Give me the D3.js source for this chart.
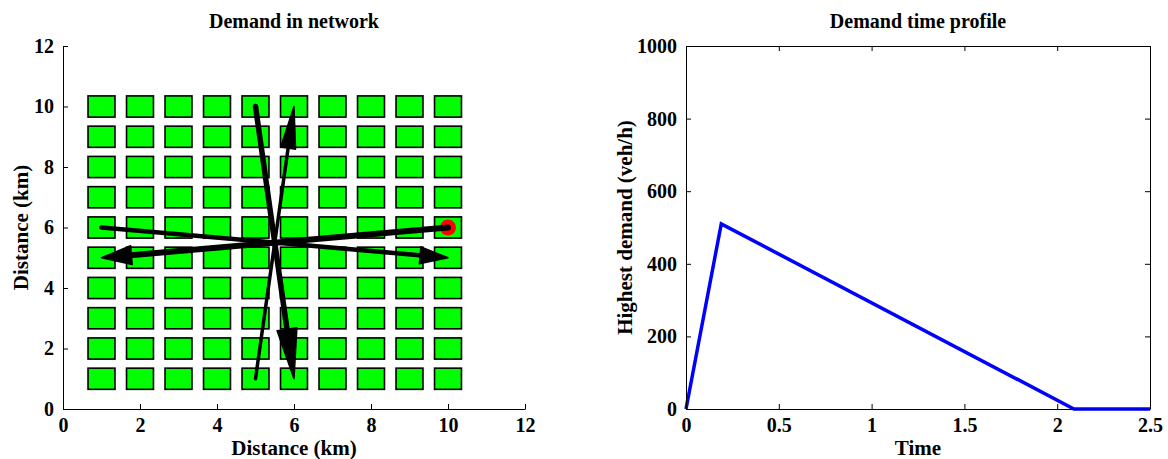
<!DOCTYPE html>
<html>
    <head>
        <meta charset="utf-8">
        <script type="text/javascript" src="https://d3js.org/d3.v7.min.js" charset="utf-8"></script>
        <style>
            body { margin: 0; background: #fff; }
            text { font-family: "Liberation Serif", "Times New Roman", serif; fill: #000; }
            .axis path, .axis line { stroke: #000; stroke-width: 1; }
        </style>
    </head>
    <body>
        <script>
            const WIDTH = 1168;
            const HEIGHT = 459;
            const FONT = '"Liberation Serif", "Times New Roman", serif';

            // ---- left chart data (network) ----
            const NET_TICKS = [0, 2, 4, 6, 8, 10, 12];
            const BLOCK_X = [1, 2, 3, 4, 5, 6, 7, 8, 9, 10];
            const BLOCK_Y = [1, 2, 3, 4, 5, 6, 7, 8, 9, 10];
            const FLOW_FROM = [[10, 6], [1, 6], [5, 10], [5, 1]];
            const FLOW_TO = [[1, 5], [10, 5], [6, 1], [6, 10]];
            const ORIGIN = [10, 6];

            // ---- right chart data (time profile) ----
            const TIME = [0, 0.19, 2.09, 2.5];
            const DEMAND = [0, 510, 0, 0];
            const TIME_TICKS = [0, 0.5, 1, 1.5, 2, 2.5];
            const DEMAND_TICKS = [0, 200, 400, 600, 800, 1000];

            // styles
            const BLOCK_SIZE = 0.7; // in km
            const FLOW_WIDTH = [6, 4.5, 5.5, 3.5];
            const HEAD_LEN = [30, 28, 50, 42];
            const HEAD_WIDTH = [19, 17, 20, 15];
            const TICK_LEN = 5;

            const LEFT = {x0: 63, x1: 525, y0: 409, y1: 46};
            const RIGHT = {x0: 686, x1: 1150, y0: 409, y1: 46};

            let svg = d3.select('body')
            .append('svg')
            .attr('width', WIDTH)
            .attr('height', HEIGHT);

            function styleAxis(g)
            {
                g.attr('font-family', FONT).attr('font-size', 20);
                g.selectAll('text')
                .style('font-family', FONT)
                .style('font-size', '20px')
                .style('font-weight', 'bold');
            }

            // ================= left chart =================
            let xNet = d3.scaleLinear().domain([0, 12]).range([LEFT.x0, LEFT.x1]);
            let yNet = d3.scaleLinear().domain([0, 12]).range([LEFT.y0, LEFT.y1]);

            let blocks = [];
            BLOCK_X.forEach(function(bx){
                BLOCK_Y.forEach(function(by){
                    blocks.push({x: bx, y: by});
                });
            });

            svg.append('g')
            .selectAll('rect')
            .data(blocks)
            .enter()
            .append('rect')
            .attr('x', function(d){ return xNet(d.x - BLOCK_SIZE / 2); })
            .attr('y', function(d){ return yNet(d.y + BLOCK_SIZE / 2); })
            .attr('width', function(d){ return xNet(d.x + BLOCK_SIZE / 2) - xNet(d.x - BLOCK_SIZE / 2); })
            .attr('height', function(d){ return yNet(d.y - BLOCK_SIZE / 2) - yNet(d.y + BLOCK_SIZE / 2); })
            .style('fill', '#00ff00')
            .attr('stroke', '#000')
            .attr('stroke-width', 1.6);

            svg.append('circle')
            .attr('cx', xNet(ORIGIN[0]))
            .attr('cy', yNet(ORIGIN[1]))
            .attr('r', 8)
            .style('fill', '#ff0000');

            let flows = FLOW_FROM.map(function(f, i){
                return {from: f, to: FLOW_TO[i], i: i};
            });

            let flowG = svg.append('g');
            flows.forEach(function(d){
                let x1 = xNet(d.from[0]), y1 = yNet(d.from[1]);
                let x2 = xNet(d.to[0]), y2 = yNet(d.to[1]);
                let len = Math.hypot(x2 - x1, y2 - y1);
                let ux = (x2 - x1) / len, uy = (y2 - y1) / len;
                let hl = HEAD_LEN[d.i], hw = HEAD_WIDTH[d.i] / 2;
                let bx = x2 - ux * hl, by = y2 - uy * hl;
                flowG.append('line')
                .attr('x1', x1).attr('y1', y1)
                .attr('x2', x2 - ux * hl * 0.5).attr('y2', y2 - uy * hl * 0.5)
                .attr('stroke', '#000')
                .attr('stroke-width', FLOW_WIDTH[d.i])
                .attr('stroke-linecap', 'round');
                flowG.append('polygon')
                .attr('points', [
                    [x2, y2],
                    [bx - uy * hw, by + ux * hw],
                    [bx + uy * hw, by - ux * hw]
                ].map(function(p){ return p.join(','); }).join(' '))
                .style('fill', '#000')
                .attr('stroke', '#000')
                .attr('stroke-width', 1.5)
                .attr('stroke-linejoin', 'round');
            });

            svg.append('g')
            .attr('class', 'axis')
            .attr('transform', 'translate(0,' + LEFT.y0 + ')')
            .call(d3.axisBottom(xNet).tickValues(NET_TICKS).tickSizeInner(-TICK_LEN).tickSizeOuter(0).tickPadding(9))
            .call(styleAxis);
            svg.append('g')
            .attr('class', 'axis')
            .attr('transform', 'translate(' + LEFT.x0 + ',0)')
            .call(d3.axisLeft(yNet).tickValues(NET_TICKS).tickSizeInner(-TICK_LEN).tickSizeOuter(0).tickPadding(9))
            .call(styleAxis);

            svg.append('text')
            .attr('x', (LEFT.x0 + LEFT.x1) / 2)
            .attr('y', 28)
            .attr('text-anchor', 'middle')
            .style('font-size', '20px')
            .style('font-weight', 'bold')
            .text('Demand in network');
            svg.append('text')
            .attr('x', (LEFT.x0 + LEFT.x1) / 2)
            .attr('y', 455)
            .attr('text-anchor', 'middle')
            .style('font-size', '21px')
            .style('font-weight', 'bold')
            .text('Distance (km)');
            svg.append('text')
            .attr('transform', 'translate(28,' + (LEFT.y0 + LEFT.y1) / 2 + ') rotate(-90)')
            .attr('text-anchor', 'middle')
            .style('font-size', '21px')
            .style('font-weight', 'bold')
            .text('Distance (km)');

            // ================= right chart =================
            let xT = d3.scaleLinear().domain([0, 2.5]).range([RIGHT.x0, RIGHT.x1]);
            let yD = d3.scaleLinear().domain([0, 1000]).range([RIGHT.y0, RIGHT.y1]);

            let profile = TIME.map(function(t, i){ return {t: t, v: DEMAND[i]}; });

            svg.append('path')
            .datum(profile)
            .attr('d', d3.line().x(function(d){ return xT(d.t); }).y(function(d){ return yD(d.v); }))
            .style('fill', 'none')
            .attr('stroke', '#0000ff')
            .attr('stroke-width', 3.5)
            .attr('stroke-linejoin', 'miter');

            svg.append('g')
            .attr('class', 'axis')
            .attr('transform', 'translate(0,' + RIGHT.y0 + ')')
            .call(d3.axisBottom(xT).tickValues(TIME_TICKS).tickFormat(d3.format('')).tickSizeInner(-TICK_LEN).tickSizeOuter(0).tickPadding(9))
            .call(styleAxis);
            svg.append('g')
            .attr('class', 'axis')
            .attr('transform', 'translate(0,' + RIGHT.y1 + ')')
            .call(d3.axisTop(xT).tickValues(TIME_TICKS).tickFormat('').tickSizeInner(-TICK_LEN).tickSizeOuter(0));
            svg.append('g')
            .attr('class', 'axis')
            .attr('transform', 'translate(' + RIGHT.x0 + ',0)')
            .call(d3.axisLeft(yD).tickValues(DEMAND_TICKS).tickFormat(d3.format('d')).tickSizeInner(-TICK_LEN).tickSizeOuter(0).tickPadding(9))
            .call(styleAxis);
            svg.append('g')
            .attr('class', 'axis')
            .attr('transform', 'translate(' + RIGHT.x1 + ',0)')
            .call(d3.axisRight(yD).tickValues(DEMAND_TICKS).tickFormat('').tickSizeInner(-TICK_LEN).tickSizeOuter(0));

            svg.append('text')
            .attr('x', (RIGHT.x0 + RIGHT.x1) / 2)
            .attr('y', 28)
            .attr('text-anchor', 'middle')
            .style('font-size', '20px')
            .style('font-weight', 'bold')
            .text('Demand time profile');
            svg.append('text')
            .attr('x', (RIGHT.x0 + RIGHT.x1) / 2)
            .attr('y', 455)
            .attr('text-anchor', 'middle')
            .style('font-size', '21px')
            .style('font-weight', 'bold')
            .text('Time');
            svg.append('text')
            .attr('transform', 'translate(632,' + (RIGHT.y0 + RIGHT.y1) / 2 + ') rotate(-90)')
            .attr('text-anchor', 'middle')
            .style('font-size', '21px')
            .style('font-weight', 'bold')
            .text('Highest demand (veh/h)');
        </script>
    </body>
</html>
